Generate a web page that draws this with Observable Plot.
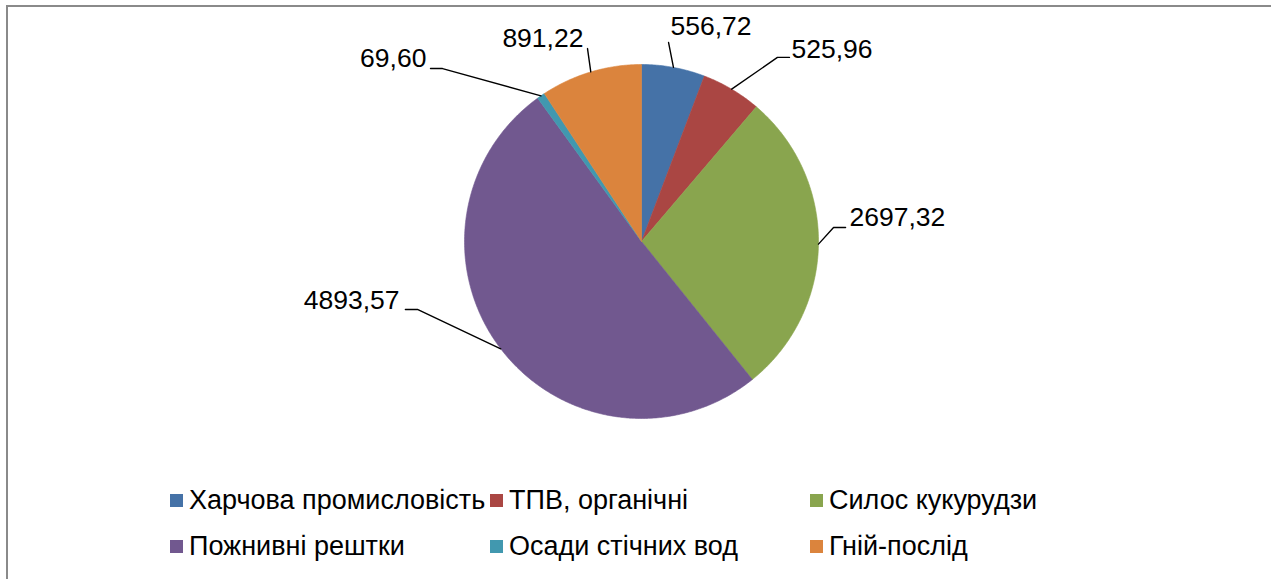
<!DOCTYPE html>
<html>
<head>
<meta charset="utf-8">
<script src="https://cdn.jsdelivr.net/npm/d3@7"></script>
<script src="https://cdn.jsdelivr.net/npm/@observablehq/plot@0.6"></script>
<style>
  html, body { margin: 0; padding: 0; background: #fff; overflow: hidden; }
  body { width: 1271px; height: 579px; position: relative; font-family: "Liberation Sans", Arial, sans-serif; }
  #frame { position: absolute; left: 6px; top: 5px; width: 1400px; height: 700px;
           border-top: 2px solid #8a8a8a; border-left: 2px solid #8a8a8a; box-sizing: border-box; }
  #chart { position: relative; }
  #legend { position: relative; display: grid; grid-template-columns: 320px 320px 320px;
            grid-auto-rows: 46px; align-items: center; padding-left: 170px; margin-top: 7px;
            font-size: 27px; color: #000; }
  .item { display: flex; align-items: center; white-space: nowrap; }
  .sw { width: 13px; height: 13px; margin-right: 6px; flex: none; }
</style>
</head>
<body>
<div id="frame"></div>
<div id="chart"></div>
<div id="legend"></div>
<script>
// ---- data ----
const categories = ["Харчова промисловість", "ТПВ, органічні", "Силос кукурудзи", "Пожнивні рештки", "Осади стічних вод", "Гній-послід"];
const values = [556.72, 525.96, 2697.32, 4893.57, 69.60, 891.22];
const valueLabels = ["556,72", "525,96", "2697,32", "4893,57", "69,60", "891,22"];
const colors = ["#4572A7", "#AA4643", "#89A54E", "#71588F", "#4198AF", "#DB843D"];

// ---- label layout (in pie-radius units) ----
const labelElbow = [[0.153, 1.124], [0.768, 1.040], [1.085, 0.079], [-1.266, -0.384], [-1.124, 0.977], [-0.305, 1.090]];
const labelTail  = [0, 0.068, 0.068, -0.068, -0.068, 0];
const labelText  = [[0.164, 1.215], [0.847, 1.085], [1.175, 0.136], [-1.367, -0.333], [-1.215, 1.034], [-0.328, 1.147]];
const labelAnchor = ["start", "start", "start", "end", "end", "end"];

// ---- geometry ----
const arcs = d3.pie().sort(null).value(d => d)(values);
const slicePts = [];
arcs.forEach((a, i) => {
  slicePts.push({cat: categories[i], x: 0, y: 0});
  const n = Math.max(2, Math.ceil((a.endAngle - a.startAngle) / (Math.PI / 360)));
  for (let k = 0; k <= n; k++) {
    const t = a.startAngle + (a.endAngle - a.startAngle) * k / n;
    slicePts.push({cat: categories[i], x: Math.sin(t), y: Math.cos(t)});
  }
  slicePts.push({cat: categories[i], x: 0, y: 0});
});

const leaderPts = [];
arcs.forEach((a, i) => {
  const m = (a.startAngle + a.endAngle) / 2;
  leaderPts.push({cat: categories[i], x: Math.sin(m), y: Math.cos(m)});
  leaderPts.push({cat: categories[i], x: labelElbow[i][0], y: labelElbow[i][1]});
  if (labelTail[i] !== 0) leaderPts.push({cat: categories[i], x: labelElbow[i][0] + labelTail[i], y: labelElbow[i][1]});
});

const textRows = categories.map((c, i) => ({cat: c, label: valueLabels[i], x: labelText[i][0], y: labelText[i][1], anchor: labelAnchor[i]}));

const plot = Plot.plot({
  width: 1271,
  height: 470,
  marginLeft: 464,
  marginRight: 453,
  marginTop: 64,
  marginBottom: 52,
  x: {domain: [-1, 1], axis: null},
  y: {domain: [-1, 1], axis: null},
  color: {domain: categories, range: colors},
  style: {background: "transparent", overflow: "visible", fontFamily: "'Liberation Sans', Arial, sans-serif"},
  marks: [
    Plot.line(slicePts, {x: "x", y: "y", z: "cat", fill: "cat", stroke: "cat", strokeWidth: 0.6, curve: "linear"}),
    Plot.line(leaderPts, {x: "x", y: "y", z: "cat", stroke: "#000", strokeWidth: 1.4, curve: "linear"}),
    Plot.text(textRows.filter(d => d.anchor === "start"), {x: "x", y: "y", text: "label", textAnchor: "start", fontSize: 26.5, fill: "#000"}),
    Plot.text(textRows.filter(d => d.anchor === "end"), {x: "x", y: "y", text: "label", textAnchor: "end", fontSize: 26.5, fill: "#000"})
  ]
});
document.getElementById("chart").appendChild(plot);

// ---- legend (order: row-major, 3 columns) ----
const legend = document.getElementById("legend");
categories.forEach((c, i) => {
  const it = document.createElement("div");
  it.className = "item";
  const sw = document.createElement("span");
  sw.className = "sw";
  sw.style.background = colors[i];
  const tx = document.createElement("span");
  tx.textContent = c;
  it.appendChild(sw); it.appendChild(tx);
  legend.appendChild(it);
});
</script>
</body>
</html>
